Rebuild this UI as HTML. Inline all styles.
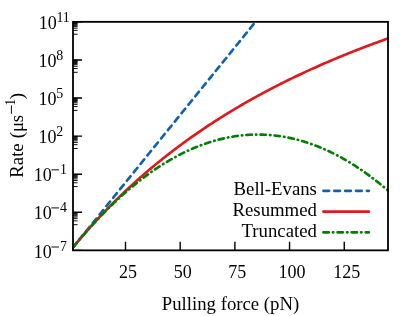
<!DOCTYPE html>
<html><head><meta charset="utf-8"><title>plot</title>
<style>
html,body{margin:0;padding:0;background:#fff;}
body{width:415px;height:316px;overflow:hidden;}
svg{display:block;will-change:transform;opacity:0.9999;}
text{font-family:"Liberation Serif",serif;fill:#000;}
</style></head><body>
<svg width="415" height="316" viewBox="0 0 415 316">
<rect x="0" y="0" width="415" height="316" fill="#ffffff"/>
<defs><clipPath id="c"><rect x="72.0" y="21.85" width="317.0" height="229.5"/></clipPath></defs>
<g clip-path="url(#c)" fill="none" stroke-width="2.65" stroke-linecap="round" stroke-linejoin="round">
<path d="M70.81,250.10 L71.91,248.74 L73.00,247.39 L74.09,246.04 L75.19,244.69 L76.28,243.34 L77.38,241.98 L78.47,240.63 L79.56,239.28 L80.66,237.93 L81.75,236.58 L82.84,235.22 L83.94,233.87 L85.03,232.52 L86.12,231.17 L87.22,229.82 L88.31,228.46 L89.41,227.11 L90.50,225.76 L91.59,224.41 L92.69,223.06 L93.78,221.70 L94.88,220.35 L95.97,219.00 L97.06,217.65 L98.16,216.30 L99.25,214.95 L100.34,213.59 L101.44,212.24 L102.53,210.89 L103.62,209.54 L104.72,208.19 L105.81,206.83 L106.91,205.48 L108.00,204.13 L109.09,202.78 L110.19,201.43 L111.28,200.07 L112.38,198.72 L113.47,197.37 L114.56,196.02 L115.66,194.67 L116.75,193.31 L117.84,191.96 L118.94,190.61 L120.03,189.26 L121.12,187.91 L122.22,186.55 L123.31,185.20 L124.41,183.85 L125.50,182.50 L126.59,181.15 L127.69,179.79 L128.78,178.44 L129.88,177.09 L130.97,175.74 L132.06,174.39 L133.16,173.03 L134.25,171.68 L135.34,170.33 L136.44,168.98 L137.53,167.63 L138.62,166.27 L139.72,164.92 L140.81,163.57 L141.91,162.22 L143.00,160.87 L144.09,159.51 L145.19,158.16 L146.28,156.81 L147.38,155.46 L148.47,154.11 L149.56,152.76 L150.66,151.40 L151.75,150.05 L152.84,148.70 L153.94,147.35 L155.03,146.00 L156.12,144.64 L157.22,143.29 L158.31,141.94 L159.41,140.59 L160.50,139.24 L161.59,137.88 L162.69,136.53 L163.78,135.18 L164.88,133.83 L165.97,132.48 L167.06,131.12 L168.16,129.77 L169.25,128.42 L170.34,127.07 L171.44,125.72 L172.53,124.36 L173.62,123.01 L174.72,121.66 L175.81,120.31 L176.91,118.96 L178.00,117.60 L179.09,116.25 L180.19,114.90 L181.28,113.55 L182.38,112.20 L183.47,110.84 L184.56,109.49 L185.66,108.14 L186.75,106.79 L187.84,105.44 L188.94,104.08 L190.03,102.73 L191.12,101.38 L192.22,100.03 L193.31,98.68 L194.41,97.32 L195.50,95.97 L196.59,94.62 L197.69,93.27 L198.78,91.92 L199.88,90.57 L200.97,89.21 L202.06,87.86 L203.16,86.51 L204.25,85.16 L205.34,83.81 L206.44,82.45 L207.53,81.10 L208.62,79.75 L209.72,78.40 L210.81,77.05 L211.91,75.69 L213.00,74.34 L214.09,72.99 L215.19,71.64 L216.28,70.29 L217.38,68.93 L218.47,67.58 L219.56,66.23 L220.66,64.88 L221.75,63.53 L222.84,62.17 L223.94,60.82 L225.03,59.47 L226.12,58.12 L227.22,56.77 L228.31,55.41 L229.41,54.06 L230.50,52.71 L231.59,51.36 L232.69,50.01 L233.78,48.65 L234.87,47.30 L235.97,45.95 L237.06,44.60 L238.16,43.25 L239.25,41.89 L240.34,40.54 L241.44,39.19 L242.53,37.84 L243.62,36.49 L244.72,35.13 L245.81,33.78 L246.91,32.43 L248.00,31.08 L249.09,29.73 L250.19,28.37 L251.28,27.02 L252.38,25.67 L253.47,24.32 L254.56,22.97 L255.66,21.62 L256.75,20.26 L257.84,18.91 L258.94,17.56 L260.03,16.21 L261.12,14.86" stroke="#1062b0" stroke-dasharray="5.75,5.12" stroke-dashoffset="-2.25"/>
<path d="M70.81,250.10 L71.91,248.75 L73.00,247.41 L74.09,246.08 L75.19,244.75 L76.28,243.43 L77.38,242.12 L78.47,240.82 L79.56,239.52 L80.66,238.24 L81.75,236.96 L82.84,235.68 L83.94,234.42 L85.03,233.16 L86.12,231.90 L87.22,230.66 L88.31,229.42 L89.41,228.19 L90.50,226.96 L91.59,225.75 L92.69,224.53 L93.78,223.33 L94.88,222.13 L95.97,220.94 L97.06,219.75 L98.16,218.57 L99.25,217.40 L100.34,216.24 L101.44,215.08 L102.53,213.92 L103.62,212.77 L104.72,211.63 L105.81,210.50 L106.91,209.37 L108.00,208.24 L109.09,207.13 L110.19,206.02 L111.28,204.91 L112.38,203.81 L113.47,202.72 L114.56,201.63 L115.66,200.54 L116.75,199.47 L117.84,198.39 L118.94,197.33 L120.03,196.27 L121.12,195.21 L122.22,194.16 L123.31,193.12 L124.41,192.08 L125.50,191.05 L126.59,190.02 L127.69,188.99 L128.78,187.98 L129.88,186.96 L130.97,185.95 L132.06,184.95 L133.16,183.95 L134.25,182.96 L135.34,181.97 L136.44,180.99 L137.53,180.01 L138.62,179.04 L139.72,178.07 L140.81,177.11 L141.91,176.15 L143.00,175.19 L144.09,174.24 L145.19,173.30 L146.28,172.36 L147.38,171.42 L148.47,170.49 L149.56,169.56 L150.66,168.64 L151.75,167.72 L152.84,166.81 L153.94,165.90 L155.03,165.00 L156.12,164.10 L157.22,163.20 L158.31,162.31 L159.41,161.42 L160.50,160.54 L161.59,159.66 L162.69,158.78 L163.78,157.91 L164.88,157.05 L165.97,156.18 L167.06,155.33 L168.16,154.47 L169.25,153.62 L170.34,152.77 L171.44,151.93 L172.53,151.09 L173.62,150.26 L174.72,149.43 L175.81,148.60 L176.91,147.78 L178.00,146.96 L179.09,146.14 L180.19,145.33 L181.28,144.52 L182.38,143.71 L183.47,142.91 L184.56,142.12 L185.66,141.32 L186.75,140.53 L187.84,139.74 L188.94,138.96 L190.03,138.18 L191.12,137.40 L192.22,136.63 L193.31,135.86 L194.41,135.10 L195.50,134.33 L196.59,133.57 L197.69,132.82 L198.78,132.07 L199.88,131.32 L200.97,130.57 L202.06,129.83 L203.16,129.09 L204.25,128.35 L205.34,127.62 L206.44,126.89 L207.53,126.16 L208.62,125.44 L209.72,124.72 L210.81,124.00 L211.91,123.29 L213.00,122.58 L214.09,121.87 L215.19,121.17 L216.28,120.46 L217.38,119.76 L218.47,119.07 L219.56,118.38 L220.66,117.69 L221.75,117.00 L222.84,116.31 L223.94,115.63 L225.03,114.96 L226.12,114.28 L227.22,113.61 L228.31,112.94 L229.41,112.27 L230.50,111.61 L231.59,110.94 L232.69,110.29 L233.78,109.63 L234.87,108.98 L235.97,108.33 L237.06,107.68 L238.16,107.03 L239.25,106.39 L240.34,105.75 L241.44,105.11 L242.53,104.48 L243.62,103.85 L244.72,103.22 L245.81,102.59 L246.91,101.96 L248.00,101.34 L249.09,100.72 L250.19,100.11 L251.28,99.49 L252.38,98.88 L253.47,98.27 L254.56,97.66 L255.66,97.06 L256.75,96.46 L257.84,95.86 L258.94,95.26 L260.03,94.67 L261.12,94.07 L262.22,93.48 L263.31,92.89 L264.41,92.31 L265.50,91.73 L266.59,91.15 L267.69,90.57 L268.78,89.99 L269.88,89.42 L270.97,88.84 L272.06,88.27 L273.16,87.71 L274.25,87.14 L275.34,86.58 L276.44,86.02 L277.53,85.46 L278.62,84.90 L279.72,84.35 L280.81,83.80 L281.91,83.25 L283.00,82.70 L284.09,82.15 L285.19,81.61 L286.28,81.07 L287.38,80.53 L288.47,79.99 L289.56,79.46 L290.66,78.92 L291.75,78.39 L292.84,77.86 L293.94,77.33 L295.03,76.81 L296.12,76.28 L297.22,75.76 L298.31,75.24 L299.41,74.73 L300.50,74.21 L301.59,73.70 L302.69,73.19 L303.78,72.68 L304.88,72.17 L305.97,71.66 L307.06,71.16 L308.16,70.66 L309.25,70.15 L310.34,69.66 L311.44,69.16 L312.53,68.66 L313.62,68.17 L314.72,67.68 L315.81,67.19 L316.91,66.70 L318.00,66.22 L319.09,65.73 L320.19,65.25 L321.28,64.77 L322.38,64.29 L323.47,63.81 L324.56,63.34 L325.66,62.87 L326.75,62.39 L327.84,61.92 L328.94,61.45 L330.03,60.99 L331.12,60.52 L332.22,60.06 L333.31,59.60 L334.41,59.14 L335.50,58.68 L336.59,58.22 L337.69,57.77 L338.78,57.31 L339.88,56.86 L340.97,56.41 L342.06,55.96 L343.16,55.51 L344.25,55.07 L345.34,54.62 L346.44,54.18 L347.53,53.74 L348.62,53.30 L349.72,52.86 L350.81,52.43 L351.91,51.99 L353.00,51.56 L354.09,51.13 L355.19,50.70 L356.28,50.27 L357.38,49.84 L358.47,49.41 L359.56,48.99 L360.66,48.57 L361.75,48.15 L362.84,47.73 L363.94,47.31 L365.03,46.89 L366.12,46.47 L367.22,46.06 L368.31,45.65 L369.41,45.24 L370.50,44.83 L371.59,44.42 L372.69,44.01 L373.78,43.60 L374.88,43.20 L375.97,42.80 L377.06,42.39 L378.16,41.99 L379.25,41.59 L380.34,41.20 L381.44,40.80 L382.53,40.41 L383.62,40.01 L384.72,39.62 L385.81,39.23 L386.91,38.84 L388.00,38.45" stroke="#dc1a20"/>
<path d="M70.81,250.10 L71.91,248.75 L73.00,247.41 L74.09,246.08 L75.19,244.75 L76.28,243.44 L77.38,242.13 L78.47,240.83 L79.56,239.53 L80.66,238.25 L81.75,236.97 L82.84,235.70 L83.94,234.44 L85.03,233.19 L86.12,231.94 L87.22,230.71 L88.31,229.48 L89.41,228.26 L90.50,227.04 L91.59,225.84 L92.69,224.64 L93.78,223.45 L94.88,222.27 L95.97,221.09 L97.06,219.93 L98.16,218.77 L99.25,217.62 L100.34,216.48 L101.44,215.34 L102.53,214.22 L103.62,213.10 L104.72,211.99 L105.81,210.88 L106.91,209.79 L108.00,208.70 L109.09,207.62 L110.19,206.55 L111.28,205.49 L112.38,204.43 L113.47,203.39 L114.56,202.35 L115.66,201.32 L116.75,200.29 L117.84,199.28 L118.94,198.27 L120.03,197.27 L121.12,196.28 L122.22,195.29 L123.31,194.32 L124.41,193.35 L125.50,192.39 L126.59,191.43 L127.69,190.49 L128.78,189.55 L129.88,188.62 L130.97,187.70 L132.06,186.79 L133.16,185.89 L134.25,184.99 L135.34,184.10 L136.44,183.22 L137.53,182.34 L138.62,181.48 L139.72,180.62 L140.81,179.77 L141.91,178.93 L143.00,178.10 L144.09,177.27 L145.19,176.45 L146.28,175.64 L147.38,174.84 L148.47,174.05 L149.56,173.26 L150.66,172.48 L151.75,171.71 L152.84,170.95 L153.94,170.19 L155.03,169.45 L156.12,168.71 L157.22,167.98 L158.31,167.25 L159.41,166.54 L160.50,165.83 L161.59,165.13 L162.69,164.44 L163.78,163.76 L164.88,163.08 L165.97,162.41 L167.06,161.75 L168.16,161.10 L169.25,160.46 L170.34,159.82 L171.44,159.19 L172.53,158.57 L173.62,157.96 L174.72,157.36 L175.81,156.76 L176.91,156.17 L178.00,155.59 L179.09,155.02 L180.19,154.45 L181.28,153.90 L182.38,153.35 L183.47,152.80 L184.56,152.27 L185.66,151.75 L186.75,151.23 L187.84,150.72 L188.94,150.22 L190.03,149.72 L191.12,149.24 L192.22,148.76 L193.31,148.29 L194.41,147.83 L195.50,147.37 L196.59,146.93 L197.69,146.49 L198.78,146.06 L199.88,145.64 L200.97,145.22 L202.06,144.81 L203.16,144.42 L204.25,144.02 L205.34,143.64 L206.44,143.27 L207.53,142.90 L208.62,142.54 L209.72,142.19 L210.81,141.84 L211.91,141.51 L213.00,141.18 L214.09,140.86 L215.19,140.55 L216.28,140.25 L217.38,139.95 L218.47,139.66 L219.56,139.38 L220.66,139.11 L221.75,138.84 L222.84,138.59 L223.94,138.34 L225.03,138.10 L226.12,137.86 L227.22,137.64 L228.31,137.42 L229.41,137.21 L230.50,137.01 L231.59,136.82 L232.69,136.63 L233.78,136.46 L234.87,136.29 L235.97,136.13 L237.06,135.97 L238.16,135.83 L239.25,135.69 L240.34,135.56 L241.44,135.44 L242.53,135.32 L243.62,135.21 L244.72,135.12 L245.81,135.03 L246.91,134.94 L248.00,134.87 L249.09,134.80 L250.19,134.74 L251.28,134.69 L252.38,134.65 L253.47,134.61 L254.56,134.59 L255.66,134.57 L256.75,134.55 L257.84,134.55 L258.94,134.56 L260.03,134.57 L261.12,134.59 L262.22,134.62 L263.31,134.65 L264.41,134.70 L265.50,134.75 L266.59,134.81 L267.69,134.87 L268.78,134.95 L269.88,135.03 L270.97,135.12 L272.06,135.22 L273.16,135.33 L274.25,135.45 L275.34,135.57 L276.44,135.70 L277.53,135.84 L278.62,135.99 L279.72,136.14 L280.81,136.30 L281.91,136.47 L283.00,136.65 L284.09,136.84 L285.19,137.03 L286.28,137.23 L287.38,137.44 L288.47,137.66 L289.56,137.89 L290.66,138.12 L291.75,138.36 L292.84,138.61 L293.94,138.87 L295.03,139.13 L296.12,139.41 L297.22,139.69 L298.31,139.98 L299.41,140.27 L300.50,140.58 L301.59,140.89 L302.69,141.21 L303.78,141.54 L304.88,141.87 L305.97,142.22 L307.06,142.57 L308.16,142.93 L309.25,143.30 L310.34,143.67 L311.44,144.06 L312.53,144.45 L313.62,144.85 L314.72,145.26 L315.81,145.67 L316.91,146.10 L318.00,146.53 L319.09,146.97 L320.19,147.41 L321.28,147.87 L322.38,148.33 L323.47,148.80 L324.56,149.28 L325.66,149.77 L326.75,150.26 L327.84,150.76 L328.94,151.27 L330.03,151.79 L331.12,152.32 L332.22,152.85 L333.31,153.39 L334.41,153.94 L335.50,154.50 L336.59,155.06 L337.69,155.64 L338.78,156.22 L339.88,156.81 L340.97,157.41 L342.06,158.01 L343.16,158.62 L344.25,159.24 L345.34,159.87 L346.44,160.51 L347.53,161.15 L348.62,161.81 L349.72,162.47 L350.81,163.14 L351.91,163.81 L353.00,164.50 L354.09,165.19 L355.19,165.89 L356.28,166.59 L357.38,167.31 L358.47,168.03 L359.56,168.77 L360.66,169.50 L361.75,170.25 L362.84,171.01 L363.94,171.77 L365.03,172.54 L366.12,173.32 L367.22,174.11 L368.31,174.90 L369.41,175.70 L370.50,176.51 L371.59,177.33 L372.69,178.16 L373.78,178.99 L374.88,179.83 L375.97,180.68 L377.06,181.54 L378.16,182.41 L379.25,183.28 L380.34,184.16 L381.44,185.05 L382.53,185.95 L383.62,186.86 L384.72,187.77 L385.81,188.69 L386.91,189.62 L388.00,190.56" stroke="#008000" stroke-dasharray="5.4,4.1,0.5,4.1" stroke-dashoffset="-4.3"/>
</g>
<path d="M125.50,250.35 V241.75 M180.19,250.35 V241.75 M234.87,250.35 V241.75 M289.56,250.35 V241.75 M344.25,250.35 V241.75 M73.0,250.35 H82.10 M73.0,212.27 H82.10 M73.0,174.18 H82.10 M73.0,136.10 H82.10 M73.0,98.02 H82.10 M73.0,59.93 H82.10 M73.0,21.85 H82.10" stroke="#000" stroke-width="1.4" fill="none"/>
<path d="M73.0,224.66 H77.60 M73.0,220.84 H77.60 M73.0,218.60 H77.60 M73.0,217.02 H77.60 M73.0,215.79 H77.60 M73.0,214.78 H77.60 M73.0,213.93 H77.60 M73.0,213.20 H77.60 M73.0,212.55 H77.60 M73.0,186.58 H77.60 M73.0,182.76 H77.60 M73.0,180.52 H77.60 M73.0,178.93 H77.60 M73.0,177.70 H77.60 M73.0,176.70 H77.60 M73.0,175.85 H77.60 M73.0,175.11 H77.60 M73.0,174.46 H77.60 M73.0,148.49 H77.60 M73.0,144.67 H77.60 M73.0,142.44 H77.60 M73.0,140.85 H77.60 M73.0,139.62 H77.60 M73.0,138.62 H77.60 M73.0,137.77 H77.60 M73.0,137.03 H77.60 M73.0,136.38 H77.60 M73.0,110.41 H77.60 M73.0,106.59 H77.60 M73.0,104.35 H77.60 M73.0,102.77 H77.60 M73.0,101.54 H77.60 M73.0,100.53 H77.60 M73.0,99.68 H77.60 M73.0,98.95 H77.60 M73.0,98.30 H77.60 M73.0,72.33 H77.60 M73.0,68.51 H77.60 M73.0,66.27 H77.60 M73.0,64.68 H77.60 M73.0,63.45 H77.60 M73.0,62.45 H77.60 M73.0,61.60 H77.60 M73.0,60.86 H77.60 M73.0,60.21 H77.60 M73.0,34.24 H77.60 M73.0,30.42 H77.60 M73.0,28.19 H77.60 M73.0,26.60 H77.60 M73.0,25.37 H77.60 M73.0,24.37 H77.60 M73.0,23.52 H77.60 M73.0,22.78 H77.60 M73.0,22.13 H77.60" stroke="#000" stroke-width="0.95" fill="none"/>
<rect x="73.0" y="21.85" width="315.00" height="228.50" fill="none" stroke="#000" stroke-width="1.8"/>
<text x="127.95" y="278.4" font-size="18.0" text-anchor="middle">25</text>
<text x="182.64" y="278.4" font-size="18.0" text-anchor="middle">50</text>
<text x="237.32" y="278.4" font-size="18.0" text-anchor="middle">75</text>
<text x="292.01" y="278.4" font-size="18.0" text-anchor="middle">100</text>
<text x="346.70" y="278.4" font-size="18.0" text-anchor="middle">125</text>
<text x="33.70" y="257.50" font-size="18.0">10</text>
<path d="M51.40,247.00 H59.00" stroke="#000" stroke-width="0.95" fill="none"/>
<text transform="translate(59.90,251.10) scale(1,1.1)" font-size="13.9">7</text>
<text x="33.70" y="219.42" font-size="18.0">10</text>
<path d="M51.40,207.92 H59.00" stroke="#000" stroke-width="0.95" fill="none"/>
<text transform="translate(59.90,212.02) scale(1,1.1)" font-size="13.9">4</text>
<text x="33.70" y="181.33" font-size="18.0">10</text>
<path d="M51.40,169.83 H59.00" stroke="#000" stroke-width="0.95" fill="none"/>
<text transform="translate(59.90,173.93) scale(1,1.1)" font-size="13.9">1</text>
<text x="38.60" y="143.25" font-size="18.0">10</text>
<text transform="translate(56.20,135.85) scale(1,1.1)" font-size="13.9">2</text>
<text x="38.60" y="105.17" font-size="18.0">10</text>
<text transform="translate(56.20,97.77) scale(1,1.1)" font-size="13.9">5</text>
<text x="38.60" y="67.08" font-size="18.0">10</text>
<text transform="translate(56.20,59.68) scale(1,1.1)" font-size="13.9">8</text>
<text x="38.80" y="29.00" font-size="18.0">10</text>
<text transform="translate(56.40,21.60) scale(1,1.1)" font-size="13.9">11</text>
<text x="230.50" y="309.7" font-size="18.75" text-anchor="middle">Pulling force (pN)</text>
<g transform="translate(23.2,177.7) rotate(-90)">
<text x="0" y="0" font-size="18.75">Rate<tspan dx="0.5"> (μ</tspan><tspan dx="-0.4">s</tspan></text>
<path d="M63.90,-11.80 H72.30" stroke="#000" stroke-width="0.95" fill="none"/>
<text transform="translate(71.90,-7.90) scale(1,1.1)" font-size="13.9">1</text>
<text x="78.4" y="0" font-size="18.75">)</text>
</g>
<text x="316.9" y="195.4" font-size="18.75" text-anchor="end">Bell-Evans</text>
<path d="M323.4,190.80 H368.9" stroke="#1062b0" stroke-width="2.65" stroke-linecap="round" fill="none" stroke-dasharray="5.75,5.12"/>
<text x="316.9" y="216.2" font-size="18.75" text-anchor="end">Resummed</text>
<path d="M323.4,211.60 H368.9" stroke="#dc1a20" stroke-width="2.65" stroke-linecap="round" fill="none"/>
<text x="316.9" y="236.9" font-size="18.75" text-anchor="end">Truncated</text>
<path d="M323.4,232.30 H368.9" stroke="#008000" stroke-width="2.65" stroke-linecap="round" fill="none" stroke-dasharray="5.4,4.1,0.5,4.1"/>
</svg></body></html>
